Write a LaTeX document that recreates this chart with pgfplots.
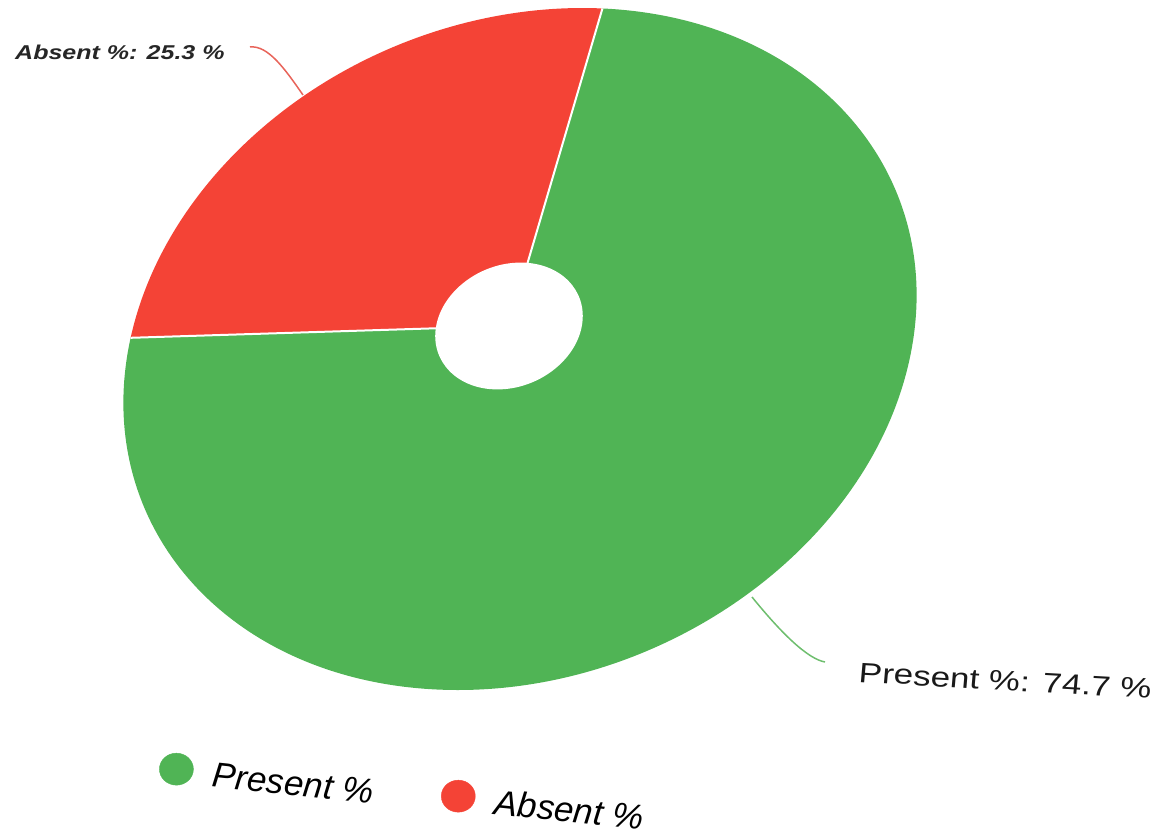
\documentclass[border=0pt]{standalone}
\usepackage{pgfplots}
\pgfplotsset{compat=1.18}
\usepackage{fontspec}
\setmainfont{Liberation Sans}
\definecolor{pgreen}{RGB}{80,180,85}
\definecolor{ared}{RGB}{244,67,54}
\definecolor{lgreen}{RGB}{110,190,110}
\definecolor{lred}{RGB}{232,100,90}

% data (percent)
\def\presentval{74.7}
\def\absentval{25.3}

\begin{document}
\begin{tikzpicture}
\useasboundingbox (-520pt,-487pt) rectangle (643pt,349pt);
\pgfmathsetmacro{\sA}{86.7}
\pgfmathsetmacro{\eA}{\sA-3.6*\presentval}
\pgfmathsetmacro{\eB}{\eA-3.6*\absentval}
\begin{axis}[
  anchor=origin,
  x={(392pt,2pt)}, y={(60pt,341pt)},
  xmin=-1, xmax=1, ymin=-1, ymax=1,
  hide axis, clip=false,
  disabledatascaling,
  legend columns=2,
  legend cell align=left,
  legend image code/.code={\path[draw=none,fill=none] (0pt,0pt) -- (49pt,0pt); \fill[#1] (16pt,6pt) ellipse[x radius=17pt, y radius=16pt];},
  legend style={at={(axis description cs:0.1007,-0.1475)}, anchor=west,
    draw=none, fill=none, inner sep=0pt,
    font=\fontsize{35}{38}\selectfont\itshape,
    /tikz/every even column/.append style={column sep=64pt}},
]
\fill[pgreen] (axis cs:-0.0384,0.0677) -- (axis cs:{cos(\sA)},{sin(\sA)})
   arc[start angle=\sA, end angle=\eA, radius=1] -- cycle;
\fill[ared] (axis cs:-0.0384,0.0677) -- (axis cs:{cos(\eA)},{sin(\eA)})
   arc[start angle=\eA, end angle=\eB, radius=1] -- cycle;
\draw[white, line width=2pt] (axis cs:{cos(\sA)},{sin(\sA)}) -- (axis cs:-0.0384,0.0677) -- (axis cs:{cos(\eA)},{sin(\eA)});
\fill[white] (axis cs:-0.0384,0.0677) circle[radius=0.186];
\addlegendimage{pgreen}
\addlegendentry[rotate=-6]{Present \%}
\addlegendimage{ared, yshift=-27pt}
\addlegendentry[rotate=-6, yshift=-27pt]{Absent \%}
\end{axis}
% labels and leader lines
\draw[lred, line width=1.5pt] (-270pt,302pt) .. controls (-252pt,304pt) and (-235pt,280pt) .. (-217pt,254pt);
\node[anchor=base west, inner sep=0pt, xscale=1.25, text=black!85,
  font=\fontsize{20}{24}\selectfont\bfseries\itshape] at (-505pt,289pt) {Absent \%: 25.3 \%};
\draw[lgreen, line width=1.5pt] (232pt,-248pt) .. controls (262pt,-285pt) and (288pt,-310pt) .. (305pt,-313pt);
\node[anchor=base west, inner sep=0pt, xscale=1.25, rotate=-4, text=black!90,
  font=\fontsize{28}{32}\selectfont] at (338pt,-333pt) {Present \%: 74.7 \%};
\end{tikzpicture}
\end{document}
